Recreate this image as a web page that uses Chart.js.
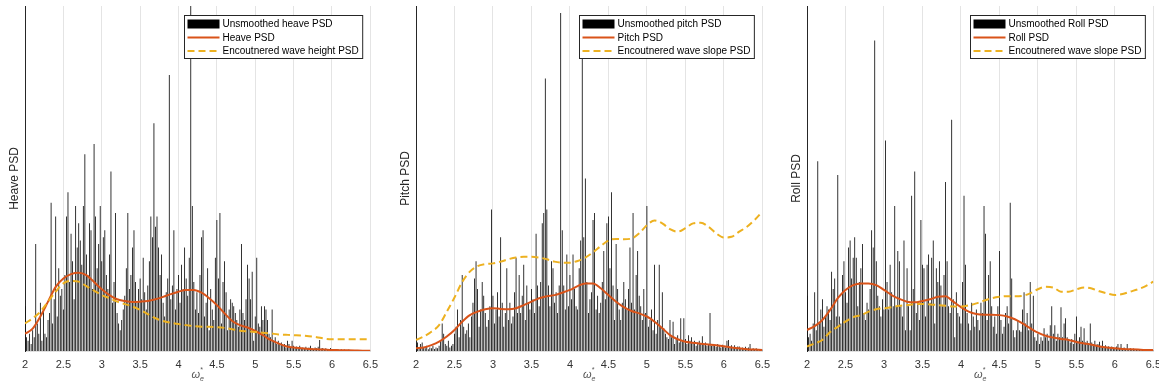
<!DOCTYPE html>
<html>
<head>
<meta charset="utf-8">
<script src="https://cdn.jsdelivr.net/npm/chart.js@4.4.1/dist/chart.umd.min.js"></script>
<style>
  html, body { margin: 0; padding: 0; background: #fff; overflow: hidden; }
  body { width: 1159px; height: 387px; position: relative; }
  canvas { position: absolute; top: 0; }
</style>
</head>
<body>
<canvas id="heaveChart" width="385" height="387" style="left:0px"></canvas>
<canvas id="pitchChart" width="386" height="387" style="left:391px"></canvas>
<canvas id="rollChart" width="386" height="387" style="left:782px"></canvas>
<script>
  // Frequency grids (encounter frequency, non-dimensional)
  const omegaBars = [];
  for (let i = 0; i <= 225; i++) omegaBars.push(+(2 + 0.02 * i).toFixed(2));
  const omegaSmooth = [];
  for (let i = 0; i <= 45; i++) omegaSmooth.push(+(2 + 0.1 * i).toFixed(1));
  const xTicks = [2, 2.5, 3, 3.5, 4, 4.5, 5, 5.5, 6, 6.5];

  // Raw periodograms (percent of axis height), one value per omegaBars entry
  const heaveRaw = [
    13, 4, 3, 5, 2, 6, 4, 31, 8, 5, 14, 3, 12, 5, 4, 9, 11, 43, 8, 15,
    39, 10, 24, 16, 18, 12, 22, 39, 46, 20, 34, 26, 15, 42, 30, 37, 32, 25, 42, 57,
    28, 22, 37, 35, 18, 60, 39, 24, 31, 42, 26, 33, 35, 22, 18, 28, 52, 14, 20, 40,
    11, 8, 6, 9, 12, 16, 24, 40, 18, 22, 30, 35, 20, 14, 18, 21, 15, 27, 17, 12,
    19, 26, 39, 33, 66, 36, 39, 30, 22, 28, 14, 10, 17, 21, 80, 15, 19, 35, 12, 18,
    22, 14, 25, 18, 30, 21, 16, 27, 100, 42, 20, 12, 17, 11, 22, 33, 35, 10, 14, 24,
    6, 18, 12, 9, 27, 38, 21, 40, 8, 20, 26, 17, 6, 12, 15, 14, 13, 11, 9, 7,
    12, 31, 11, 9, 15, 25, 21, 15, 23, 3, 10, 27, 8, 7, 13, 9, 13, 12, 9, 5,
    4, 12, 3, 4, 2, 3, 2, 2.5, 1.5, 2, 1, 3, 2, 1, 3, 1.5, 1, 1.3, 0.8, 1.5,
    0.6, 1, 0.8, 1.2, 0.7, 1, 1.5, 0.8, 0.6, 1, 0.8, 1.2, 3.2, 0.7, 0.9, 0.5, 0.8, 0.6, 0.5, 0.9,
    0.4, 0.6, 0.3, 0.5, 0.4, 0.3, 0.5, 0.3, 0.4, 0.2, 0.3, 0.4, 0.2, 0.3, 0.2, 0.3, 0.2, 0.2, 0.3, 0.1,
    0.2, 0.1, 0.2, 0.1, 0.1, 0.1
  ];
  const pitchRaw = [
    1.5, 2.5, 1, 2, 2.5, 1, 0.8, 1.5, 0.5, 1, 0.8, 1.5, 0.6, 1, 0.8, 1.5, 3, 8, 5, 2,
    1.5, 3, 1, 1.5, 2, 5, 7, 12, 4, 9, 22, 7, 5, 6, 8, 4, 10, 14, 21, 26,
    18, 7, 12, 20, 16, 11, 7, 9, 13, 41, 16, 8, 12, 17, 10, 33, 14, 7, 11, 24,
    9, 14, 8, 10, 17, 27, 11, 22, 11, 16, 25, 9, 19, 14, 12, 18, 15, 11, 34, 19,
    13, 20, 37, 40, 79, 41, 19, 13, 26, 24, 14, 17, 11, 19, 98, 35, 19, 12, 28, 13,
    22, 15, 28, 18, 13, 12, 24, 32, 88, 33, 50, 20, 11, 15, 17, 38, 40, 12, 16, 11,
    14, 20, 29, 15, 37, 39, 24, 46, 19, 9, 31, 18, 12, 9, 14, 20, 15, 12, 18, 30,
    14, 40, 12, 22, 29, 16, 13, 9, 18, 11, 42, 7, 9, 12, 6, 25, 5, 9, 25, 7,
    17, 6.6, 5, 4, 3.5, 9, 4, 8.5, 2, 3.5, 4.6, 2.5, 9.5, 3, 9.5, 3.5, 2, 4.6, 3, 4,
    2.5, 3, 1.5, 2.5, 3, 2, 4.3, 1.8, 2.5, 1.5, 2, 11, 1.5, 2, 1.7, 1.2, 2, 1.5, 1, 1.8,
    1.3, 1, 3, 3.2, 1.2, 1.7, 1, 1.7, 0.8, 1.3, 1.3, 0.8, 1, 0.7, 1.2, 0.8, 1, 2, 0.6, 0.8,
    0.5, 0.8, 0.4, 0.6, 0.3, 0.4
  ];
  const rollRaw = [
    16, 4, 5, 3, 8, 17, 6, 55, 8, 12, 15, 7, 10, 13, 12, 9, 23, 18, 21, 10,
    51, 10, 8, 22, 26, 17, 14, 30, 32, 21, 27, 33, 27, 13, 20, 24, 31, 11, 9, 14,
    12, 18, 35, 30, 90, 26, 16, 13, 10, 15, 12, 61, 20, 12, 25, 17, 13, 42, 13, 29,
    26, 13, 10, 32, 6, 24, 13, 6, 45, 18, 52, 11, 14, 9, 38, 25, 24, 10, 25, 28,
    14, 27, 32, 8, 24, 20, 26, 19, 13, 22, 49, 26, 13, 11, 67, 15, 4, 17, 11, 10,
    8, 20, 45, 25, 11, 8, 6, 14, 10, 7, 12, 9, 6, 14, 11, 42, 34, 9, 22, 26,
    13, 7, 10, 5, 13, 29, 9, 5, 7, 11, 13, 8, 43, 21, 6, 4, 6, 9, 6, 5.6,
    12, 17, 8, 11, 6, 20, 8, 16, 4, 3, 5, 2, 4, 3, 6.6, 4, 5, 3, 7.5, 13,
    5, 7.5, 3, 5, 4, 12.7, 4, 8, 9.5, 4, 3, 2.5, 3.5, 2, 5, 10, 3, 4, 7, 3,
    6.6, 2.5, 3, 2, 8, 2.5, 1.5, 3, 1.8, 2, 2.7, 1.5, 3, 1.2, 1.7, 1, 1.4, 0.8, 1.3, 1,
    0.8, 1.3, 2, 0.8, 2, 0.6, 1, 0.5, 2, 0.6, 0.8, 0.5, 0.7, 0.4, 0.6, 0.3, 0.5, 0.4, 0.3, 0.5,
    0.2, 0.4, 0.2, 0.3, 0.2, 0.2
  ];

  // Smoothed spectra, one value per omegaSmooth entry
  const heavePSD = [
    5, 6.5, 10, 14.3, 18.6, 21, 22.3, 22.7, 22, 20, 17.9, 16.2, 15, 14.5, 14.2, 14.3,
    14.5, 15, 15.7, 16.5, 17.2, 17.7, 17.7, 16.9, 15.3, 13.3, 10.9, 8.7, 7.5, 6.8, 5.8,
    4.6, 3.2, 2.2, 1.4, 1, 0.8, 0.6, 0.5, 0.4, 0.3, 0.25, 0.2, 0.15, 0.1, 0.1
  ];
  const waveHeightPSD = [
    8, 9.5, 11.4, 14.3, 17.2, 19.6, 20.3, 20.1, 18.8, 17.5, 16.2, 15.3, 14.3, 13.6, 12.9,
    11.9, 10.7, 9.5, 8.7, 8.2, 7.8, 7.5, 7.2, 7, 7, 6.9, 6.7, 6.3, 5.9, 5.7, 5.5, 5.3,
    5.1, 4.8, 4.7, 4.6, 4.5, 4.3, 4, 3.6, 3.4, 3.4, 3.4, 3.4, 3.4, 3.4
  ];
  const pitchPSD = [
    0.8, 1, 1.7, 2.7, 4.2, 6.1, 8.5, 10.4, 11.4, 12.1, 12.4, 12.2, 12.1, 12.4, 13.3, 14.3,
    15.3, 15.9, 16.2, 16.9, 17.7, 18.8, 19.6, 19.6, 18.2, 16.2, 14.3, 12.7, 11.6, 10.9,
    10, 8.5, 6.6, 4.6, 3.4, 2.7, 2.4, 2.1, 1.9, 1.7, 1.4, 1, 0.8, 0.5, 0.4, 0.3
  ];
  const pitchSlopePSD = [
    3.2, 4.2, 5.6, 7.5, 11.4, 15.5, 20, 23, 24.6, 25.2, 25.4, 25.9, 26.6, 27.1, 27.3, 27.3,
    27.1, 26.6, 25.9, 25.6, 25.6, 26.1, 27.1, 28.6, 30.4, 32, 32.5, 32.4, 32.6, 34.1, 36.5,
    37.8, 37, 35.3, 34.6, 35.6, 37, 37.2, 36, 34.1, 32.9, 33.1, 34.6, 36, 38, 40.4
  ];
  const rollPSD = [
    6.1, 7.2, 9, 11.9, 15.3, 17.7, 19.1, 19.6, 19.6, 19.1, 17.7, 16.2, 15.1, 14.3, 14.1,
    14.5, 15, 15.7, 15.9, 14.3, 12.7, 11.4, 10.7, 10.5, 10.5, 10.4, 10, 9.2, 8, 6.6, 5.3,
    4.4, 3.9, 3.5, 3.2, 2.6, 2.2, 1.8, 1.3, 1, 0.8, 0.6, 0.5, 0.4, 0.3, 0.3
  ];
  const rollSlopePSD = [
    1.3, 2.2, 3.2, 5.5, 7, 8.5, 9.8, 10.4, 11.4, 12.1, 12.4, 12.7, 13.1, 13.3, 13.6, 13.6,
    13.5, 13.3, 13.1, 12.9, 12.9, 13.2, 13.8, 14.6, 15.3, 15.7, 15.9, 15.9, 16, 16.7, 17.9,
    18.6, 18.4, 17.2, 17.2, 17.9, 18.4, 18.1, 17.3, 16.7, 16.2, 16.5, 17.2, 17.9, 18.8, 20.1
  ];

  const FONT = '"Liberation Sans", Arial, Helvetica, sans-serif';
  Chart.defaults.font.family = FONT;
  Chart.defaults.color = '#262626';

  // Boxed legend in the upper right corner of the axes
  const boxedLegend = {
    id: 'boxedLegend',
    afterDraw(chart) {
      const { ctx, chartArea } = chart;
      const sets = chart.data.datasets;
      ctx.save();
      ctx.font = '10px ' + FONT;
      const textW = Math.max(...sets.map(d => ctx.measureText(d.label).width));
      const w = 3 + 32 + 3 + textW + 4;
      const h = 43;
      const x0 = Math.round(chartArea.right - 8 - w) + 0.5;
      const y0 = Math.round(chartArea.top + 9) + 0.5;
      ctx.fillStyle = '#fff';
      ctx.fillRect(x0, y0, w, h);
      ctx.strokeStyle = '#262626';
      ctx.lineWidth = 1;
      ctx.strokeRect(x0, y0, w, h);
      sets.forEach((d, i) => {
        const y = y0 + 8.5 + 13.5 * i;
        if (d.type === 'bar') {
          ctx.fillStyle = d.backgroundColor;
          ctx.fillRect(x0 + 3, y - 4.5, 32, 9);
        } else {
          ctx.strokeStyle = d.borderColor;
          ctx.lineWidth = d.borderWidth;
          ctx.setLineDash(d.borderDash || []);
          ctx.beginPath();
          ctx.moveTo(x0 + 3, y);
          ctx.lineTo(x0 + 35, y);
          ctx.stroke();
          ctx.setLineDash([]);
        }
        ctx.fillStyle = '#000';
        ctx.textBaseline = 'middle';
        ctx.textAlign = 'left';
        ctx.fillText(d.label, x0 + 38, y + 0.5);
      });
      ctx.restore();
    }
  };

  // x label: omega with subscript e and superscript star
  const omegaTitle = {
    id: 'omegaTitle',
    afterDraw(chart) {
      const { ctx, chartArea } = chart;
      const cx = (chartArea.left + chartArea.right) / 2;
      const base = 378;
      ctx.save();
      ctx.fillStyle = '#555';
      ctx.textBaseline = 'alphabetic';
      ctx.font = 'italic 11px ' + FONT;
      const wO = ctx.measureText('ω').width;
      const x = cx - (wO + 4) / 2;
      ctx.fillText('ω', x, base);
      ctx.font = 'italic 7px ' + FONT;
      ctx.fillText('e', x + wO, base + 2.5);
      ctx.fillText('*', x + wO, base - 6);
      ctx.restore();
    }
  };

  function drawPanel(canvasId, yTitle, raw, smooth, wave, labels) {
    const ctx = document.getElementById(canvasId).getContext('2d');
    return new Chart(ctx, {
      type: 'bar',
      data: {
        datasets: [
          {
            type: 'bar',
            label: labels[0],
            data: omegaBars.map((x, i) => ({ x: x, y: raw[i] })),
            backgroundColor: '#000',
            borderWidth: 0,
            barThickness: 0.8,
            inflateAmount: 0,
            grouped: false,
            order: 3
          },
          {
            type: 'line',
            label: labels[1],
            data: omegaSmooth.map((x, i) => ({ x: x, y: smooth[i] })),
            borderColor: '#D95319',
            borderWidth: 2,
            pointRadius: 0,
            cubicInterpolationMode: 'monotone',
            order: 2
          },
          {
            type: 'line',
            label: labels[2],
            data: omegaSmooth.map((x, i) => ({ x: x, y: wave[i] })),
            borderColor: '#EDB120',
            borderWidth: 2,
            borderDash: [7, 4],
            pointRadius: 0,
            cubicInterpolationMode: 'monotone',
            order: 1
          }
        ]
      },
      options: {
        responsive: false,
        animation: false,
        events: [],
        layout: { padding: { top: 6, right: 14, left: 0, bottom: 0 } },
        plugins: { legend: { display: false }, tooltip: { enabled: false } },
        scales: {
          x: {
            type: 'linear',
            min: 2,
            max: 6.5,
            offset: false,
            afterBuildTicks: scale => { scale.ticks = xTicks.map(v => ({ value: v })); },
            afterFit: scale => { scale.height = 36; },
            ticks: {
              padding: 7,
              color: '#333',
              font: { size: 11 },
              maxRotation: 0,
              autoSkip: false,
              callback: v => String(v)
            },
            grid: { color: '#e4e4e4', drawTicks: false, offset: false },
            border: { display: true, color: '#e0e0e0' }
          },
          y: {
            min: 0,
            max: 100,
            afterFit: scale => { scale.width = 25; },
            ticks: { display: false },
            grid: { display: false },
            border: { display: true, color: '#262626' },
            title: {
              display: true,
              text: yTitle,
              color: '#262626',
              font: { size: 12 },
              padding: { top: 7, bottom: 0 }
            }
          }
        }
      },
      plugins: [boxedLegend, omegaTitle]
    });
  }

  drawPanel('heaveChart', 'Heave PSD', heaveRaw, heavePSD, waveHeightPSD,
    ['Unsmoothed heave PSD', 'Heave PSD', 'Encoutnered wave height PSD']);
  drawPanel('pitchChart', 'Pitch PSD', pitchRaw, pitchPSD, pitchSlopePSD,
    ['Unsmoothed pitch PSD', 'Pitch PSD', 'Encoutnered wave slope PSD']);
  drawPanel('rollChart', 'Roll PSD', rollRaw, rollPSD, rollSlopePSD,
    ['Unsmoothed Roll PSD', 'Roll PSD', 'Encoutnered wave slope PSD']);
</script>
</body>
</html>
